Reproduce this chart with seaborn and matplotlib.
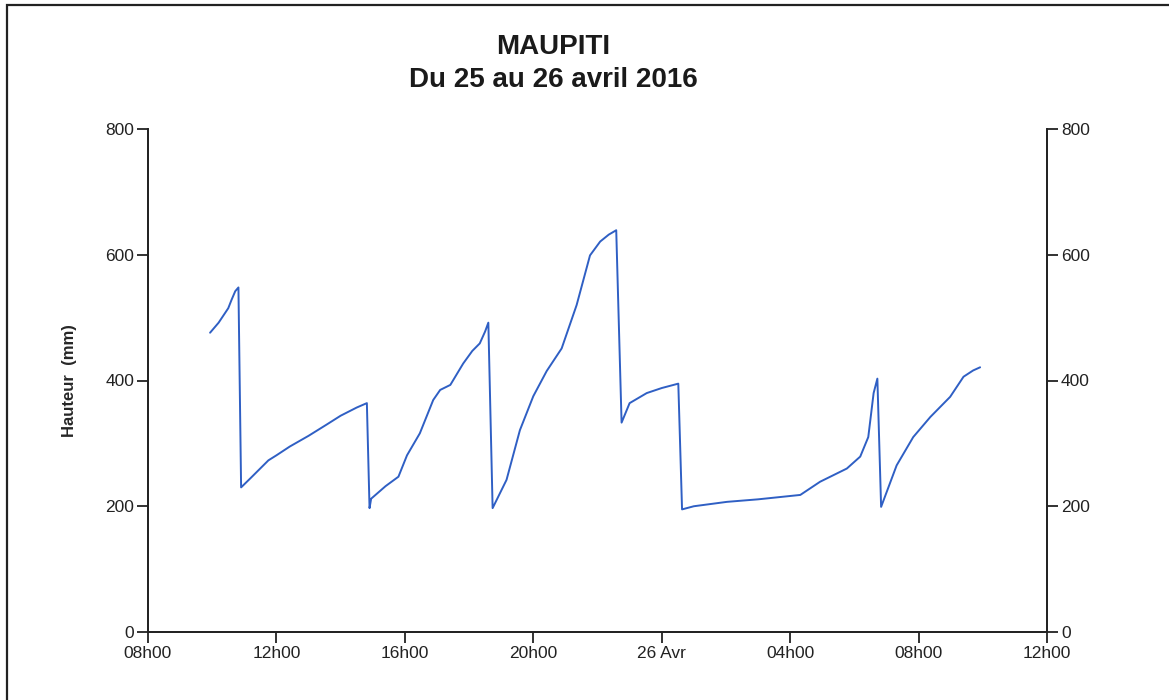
import matplotlib.dates as mdates
import matplotlib.pyplot as plt
import pandas as pd
import seaborn as sns
from matplotlib.patches import Rectangle

# === DONNEES ===
heures = [
    "2016-04-25 09:56", "2016-04-25 10:12", "2016-04-25 10:30", "2016-04-25 10:36",
    "2016-04-25 10:43", "2016-04-25 10:49", "2016-04-25 10:54", "2016-04-25 11:12",
    "2016-04-25 11:45", "2016-04-25 12:00", "2016-04-25 12:25", "2016-04-25 13:00",
    "2016-04-25 13:34", "2016-04-25 14:00", "2016-04-25 14:30", "2016-04-25 14:49",
    "2016-04-25 14:54", "2016-04-25 14:57", "2016-04-25 15:24", "2016-04-25 15:48",
    "2016-04-25 16:04", "2016-04-25 16:28", "2016-04-25 16:53", "2016-04-25 17:06",
    "2016-04-25 17:25", "2016-04-25 17:49", "2016-04-25 18:06", "2016-04-25 18:20",
    "2016-04-25 18:30", "2016-04-25 18:36", "2016-04-25 18:44", "2016-04-25 19:10",
    "2016-04-25 19:35", "2016-04-25 20:00", "2016-04-25 20:25", "2016-04-25 20:53",
    "2016-04-25 21:21", "2016-04-25 21:46", "2016-04-25 22:05", "2016-04-25 22:21",
    "2016-04-25 22:35", "2016-04-25 22:45", "2016-04-25 23:00", "2016-04-25 23:32",
    "2016-04-26 00:00", "2016-04-26 00:31", "2016-04-26 00:38", "2016-04-26 01:00",
    "2016-04-26 02:02", "2016-04-26 03:00", "2016-04-26 04:19", "2016-04-26 04:56",
    "2016-04-26 05:46", "2016-04-26 06:11", "2016-04-26 06:26", "2016-04-26 06:36",
    "2016-04-26 06:43", "2016-04-26 06:50", "2016-04-26 07:19", "2016-04-26 07:50",
    "2016-04-26 08:22", "2016-04-26 08:59", "2016-04-26 09:24", "2016-04-26 09:42",
    "2016-04-26 09:55",
]
hauteur_mm = [
    476, 492, 515, 528, 542, 548, 230, 245,
    273, 281, 295, 312, 330, 344, 357, 364,
    197, 212, 232, 247, 281, 316, 369, 385,
    393, 427, 447, 459, 478, 492, 197, 242,
    321, 375, 415, 451, 520, 599, 621, 632,
    639, 333, 364, 380, 388, 395, 195, 200,
    207, 211, 218, 239, 260, 279, 310, 380,
    403, 199, 265, 310, 342, 374, 406, 416,
    421,
]
ticks_y = [0, 200, 400, 600, 800]
ticks_x = ["2016-04-25 08:00", "2016-04-25 12:00", "2016-04-25 16:00", "2016-04-25 20:00",
           "2016-04-26 00:00", "2016-04-26 04:00", "2016-04-26 08:00", "2016-04-26 12:00"]
labels_x = ["08h00", "12h00", "16h00", "20h00", "26 Avr", "04h00", "08h00", "12h00"]

df = pd.DataFrame({"heure": pd.to_datetime(heures), "hauteur": hauteur_mm})

sns.set_style("ticks")
plt.rcParams["font.family"] = ["Liberation Sans Narrow", "Liberation Sans", "DejaVu Sans"]

fig = plt.figure(figsize=(11.69, 7.0), dpi=100)
ax = fig.add_axes([148 / 1169, 1 - 632 / 700, (1047 - 148) / 1169, (632 - 129) / 700])

sns.lineplot(data=df, x="heure", y="hauteur", ax=ax, color="#2f5fc4", linewidth=1.4)

ax.set_xlim(pd.Timestamp(ticks_x[0]), pd.Timestamp(ticks_x[-1]))
ax.set_ylim(0, 800)
ax.set_xticks(pd.to_datetime(ticks_x))
ax.set_xticklabels(labels_x)
ax.set_yticks(ticks_y)
ax.set_xlabel("")
ax.set_ylabel("Hauteur  (mm)", fontsize=12, fontweight="bold",
              family=["Liberation Sans", "DejaVu Sans"], labelpad=20)
ax.tick_params(axis="both", labelsize=12.5, width=1.3, length=8, color="#222222",
               labelcolor="#222222", pad=2)
ax.spines["top"].set_visible(False)
for s in ["left", "bottom", "right"]:
    ax.spines[s].set_linewidth(1.3)
    ax.spines[s].set_color("#222222")

ax2 = ax.twinx()
ax2.set_ylim(0, 800)
ax2.set_yticks(ticks_y)
ax2.tick_params(axis="y", labelsize=12.5, width=1.3, length=8, color="#222222",
                labelcolor="#222222", pad=2)
ax2.spines["top"].set_visible(False)
for s in ["left", "bottom", "right"]:
    ax2.spines[s].set_linewidth(1.3)
    ax2.spines[s].set_color("#222222")

fig.text(553 / 1169, 1 - 47 / 700, "MAUPITI", ha="center", va="center",
         fontsize=20, fontweight="bold", family=["Liberation Sans", "DejaVu Sans"], color="#1a1a1a")
fig.text(553 / 1169, 1 - 80 / 700, "Du 25 au 26 avril 2016", ha="center", va="center",
         fontsize=20, fontweight="bold", family=["Liberation Sans", "DejaVu Sans"], color="#1a1a1a")

# cadre de la page scannee
fig.add_artist(Rectangle((7 / 1169, -0.05), 1.0, 1.05 - 5 / 700, transform=fig.transFigure,
                         fill=False, edgecolor="#222222", linewidth=1.6))

fig.savefig("out.png", dpi=100, facecolor="white")
